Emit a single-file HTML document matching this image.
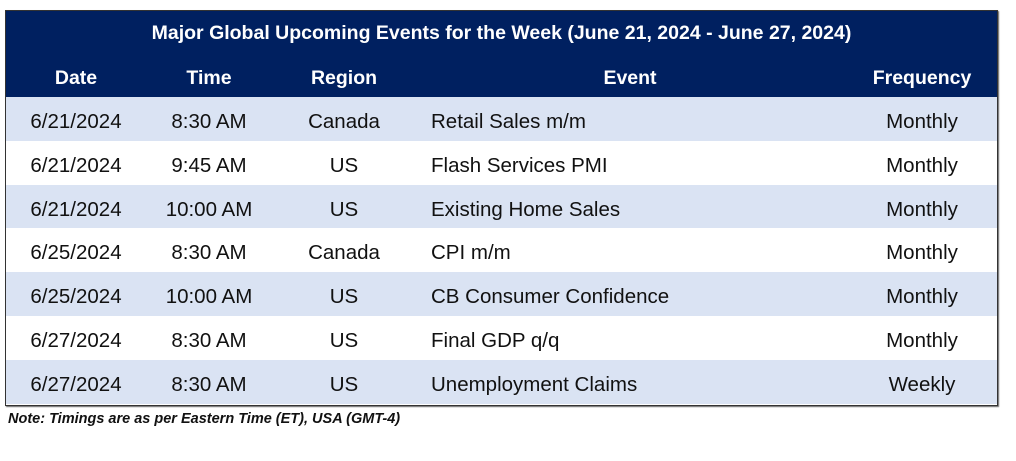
<!DOCTYPE html>
<html><head><meta charset="utf-8"><style>
body{margin:0;width:1016px;height:461px;background:#fff;font-family:"Liberation Sans",sans-serif;position:relative;overflow:hidden}
#tbl{position:absolute;left:5px;top:10px;width:993px;height:396px;border:1px solid #333;box-sizing:border-box;box-shadow:1px 1px 1px #666;overflow:hidden}
.hdr{position:absolute;left:0;top:0;width:100%;height:87px;background:#002060;color:#fff;font-weight:bold}
.title{position:absolute;top:11px;width:100%;text-align:center;font-size:19.5px}
.c{position:absolute;white-space:nowrap;transform:translateX(-50%)}
.l{position:absolute;white-space:nowrap}
.row{position:absolute;left:0;width:100%;height:44px;font-size:20.5px;color:#111}
.row span{top:13px}
.hdr .c{top:56px;font-size:19.5px}
.note{position:absolute;left:8px;top:411px;font-size:14.5px;font-weight:bold;font-style:italic;color:#111}
</style></head><body>
<div id="tbl">
<div class="hdr">
<div class="title">Major Global Upcoming Events for the Week (June 21, 2024 - June 27, 2024)</div>
<span class="c" style="left:70px">Date</span>
<span class="c" style="left:203px">Time</span>
<span class="c" style="left:338px">Region</span>
<span class="c" style="left:624px">Event</span>
<span class="c" style="left:916px">Frequency</span>
</div>
<div id="rows"></div>
</div>
<div class="note">Note: Timings are as per Eastern Time (ET), USA (GMT-4)</div>
<script>
const dates=["6/21/2024","6/21/2024","6/21/2024","6/25/2024","6/25/2024","6/27/2024","6/27/2024"];
const times=["8:30 AM","9:45 AM","10:00 AM","8:30 AM","10:00 AM","8:30 AM","8:30 AM"];
const regions=["Canada","US","US","Canada","US","US","US"];
const events=["Retail Sales m/m","Flash Services PMI","Existing Home Sales","CPI m/m","CB Consumer Confidence","Final GDP q/q","Unemployment Claims"];
const freqs=["Monthly","Monthly","Monthly","Monthly","Monthly","Monthly","Weekly"];
const rows=document.getElementById('rows');
dates.forEach((d,i)=>{
  const r=document.createElement('div');
  r.className='row';
  r.style.top=(86+i*43.8)+'px';
  r.style.background=i%2===0?'#dae3f3':'#fff';
  
  
  r.innerHTML=`<span class="c" style="left:70px">${d}</span><span class="c" style="left:203px">${times[i]}</span><span class="c" style="left:338px">${regions[i]}</span><span class="l" style="left:425px">${events[i]}</span><span class="c" style="left:916px">${freqs[i]}</span>`;
  rows.appendChild(r);
});
</script>
</body></html>
